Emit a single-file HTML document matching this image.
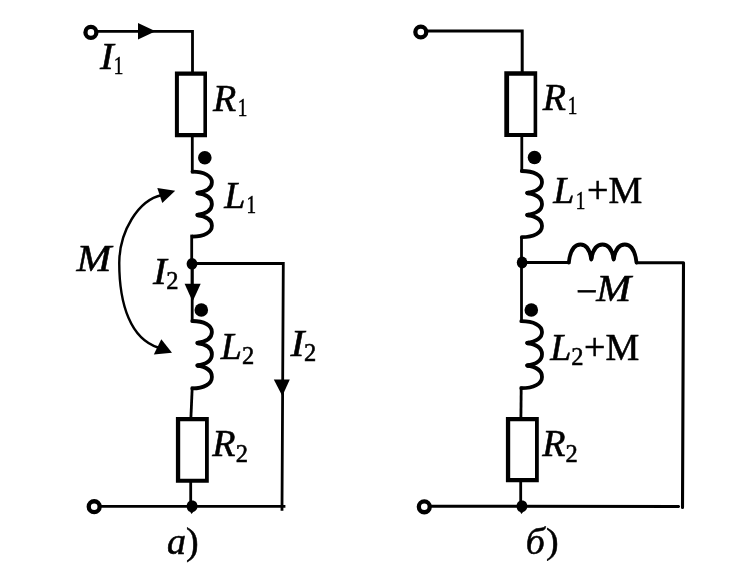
<!DOCTYPE html>
<html>
<head>
<meta charset="utf-8">
<title>Circuit</title>
<style>
html,body{margin:0;padding:0;background:#fff;}
body{width:749px;height:582px;overflow:hidden;font-family:"Liberation Serif",serif;}
svg{display:block;filter:grayscale(1) blur(0.35px);}
.w{fill:none;stroke:#000;stroke-width:2.8;stroke-linecap:square;stroke-linejoin:miter;}
.r{fill:#fff;stroke:#000;stroke-width:3.6;stroke-linejoin:miter;}
.c{fill:none;stroke:#000;stroke-width:3.8;stroke-linecap:round;stroke-linejoin:round;}
.t{fill:#fff;stroke:#000;stroke-width:4.3;}
.a{fill:none;stroke:#000;stroke-width:2.4;stroke-linecap:round;}
.k{fill:#000;stroke:none;}
text{font-family:"Liberation Serif",serif;fill:#000;stroke:#000;stroke-width:0.55;}
.i{font-style:italic;font-size:38px;}
.n{font-style:normal;font-size:38px;}
.s{font-style:normal;font-size:24.5px;}
</style>
</head>
<body>
<svg width="749" height="582" viewBox="0 0 749 582">
<rect x="0" y="0" width="749" height="582" fill="#fff"/>

<!-- ================= LEFT DIAGRAM (a) ================= -->
<!-- top wire -->
<path class="w" d="M97,31.4 H192.5 V72"/>
<polygon class="k" points="138,23 155.5,31.3 138,39.5"/>
<circle class="t" cx="90.9" cy="32.4" r="5.45"/>
<!-- R1 -->
<path fill="#000" fill-rule="evenodd" d="M174.9,71.5 H207.0 V137.15 H174.9 Z M178.9,75.75 H203.4 V133.1 H178.9 Z"/>
<!-- wire R1 -> L1 -->
<path class="w" d="M192.3,137 V172"/>
<circle class="k" cx="204.8" cy="157.7" r="6.8"/>
<!-- L1 coil -->
<path class="c" d="M192.5,171.6 C204.1,171.6 211.9,175.9 211.9,182.3 C211.9,188.7 205.7,191.7 197.2,193.0 C205.7,194.3 211.9,197.4 211.9,204.0 C211.9,210.6 205.7,213.7 197.2,215.0 C205.7,216.3 211.9,219.3 211.9,225.8 C211.9,232.3 204.1,236.6 192.5,236.6"/><ellipse class="k" cx="198.8" cy="193.0" rx="2.9" ry="2.3"/><ellipse class="k" cx="198.8" cy="215.0" rx="2.9" ry="2.3"/>
<!-- wire L1 -> node -> L2 -->
<path class="w" d="M191.7,236 V264"/><path class="w" style="stroke-width:3.2" d="M192.2,264 V286"/><path class="w" d="M192.2,286 V321"/>
<ellipse class="k" cx="192" cy="263.8" rx="5.4" ry="5.8"/>
<polygon class="k" points="184.6,283.8 200.7,283.8 192.6,301.5"/>
<circle class="k" cx="201.3" cy="310" r="6.8"/>
<!-- L2 coil -->
<path class="c" d="M192.3,321 C204.1,321.0 211.9,325.4 211.9,332.0 C211.9,338.6 205.7,341.7 197.2,343.0 C205.7,344.3 211.9,347.5 211.9,354.2 C211.9,361.0 205.7,364.2 197.2,365.5 C205.7,366.8 211.9,370.1 211.9,376.9 C211.9,383.8 204.1,388.4 192.3,388.4"/><ellipse class="k" cx="198.8" cy="343.0" rx="2.9" ry="2.3"/><ellipse class="k" cx="198.8" cy="365.5" rx="2.9" ry="2.3"/>
<!-- wire L2 -> R2 -->
<path class="w" d="M192.2,388 L190.9,418"/>
<!-- R2 -->
<path fill="#000" fill-rule="evenodd" d="M175.9,417.0 H208.8 V482.7 H175.9 Z M180.2,421.15 H205.0 V478.7 H180.2 Z"/>
<path class="w" d="M190.7,481 V506"/>
<!-- bottom wire -->
<path class="w" d="M101,506.3 H284"/>
<circle class="t" cx="94.2" cy="506.7" r="5.45"/>
<path class="k" d="M192.1,500.6 C195.5,500.6 197.5,503 197.5,506.3 C197.5,509.5 195.5,511.3 193.2,512 L191.5,514 L190.3,512 C188,511.3 186.7,509.3 186.7,506.3 C186.7,503 188.7,500.6 192.1,500.6 Z"/>
<!-- right branch -->
<path class="w" d="M192,263.5 H283.3 L282,509.4"/>
<polygon class="k" points="273.8,379.5 289.8,379.5 282.3,396"/>
<!-- M arc -->
<path class="a" d="M162,195 C138,200 119.25,232 119.25,263 C119.25,305 131,339 158,347.5"/>
<polygon class="k" points="175.2,190.8 157.3,188 162.3,203"/>
<polygon class="k" points="172,352.7 161.3,339.2 153.8,354.5"/>

<!-- labels left -->
<text class="i" transform="translate(100,69) scale(1.08,1)">I</text><text class="s" transform="translate(113.8,73.7) scale(0.78,1)">1</text>
<text class="i" x="212.9" y="111.3">R</text><text class="s" transform="translate(237.8,116) scale(0.78,1)">1</text>
<text class="i" x="224.3" y="208">L</text><text class="s" transform="translate(246.4,213.4) scale(0.78,1)">1</text>
<text class="i" transform="translate(76.5,271) scale(1.1,1)">M</text>
<text class="i" transform="translate(153,283.5) scale(1.08,1)">I</text><text class="s" x="166.3" y="289">2</text>
<text class="i" x="220.7" y="359">L</text><text class="s" x="242" y="364">2</text>
<text class="i" transform="translate(290.5,356) scale(1.1,1)">I</text><text class="s" x="304" y="361.2">2</text>
<text class="i" x="212.2" y="456.3">R</text><text class="s" x="235.8" y="461.7">2</text>
<text class="i" x="167" y="554">a</text><text class="n" x="186" y="554">)</text>

<!-- ================= RIGHT DIAGRAM (b) ================= -->
<path class="w" style="stroke-width:3" d="M427,30.9 H522.2 V72"/>
<circle class="t" cx="420.8" cy="32" r="5.45"/>
<path fill="#000" fill-rule="evenodd" d="M504.3,71.3 H537.2 V137.1 H504.3 Z M509.1,75.7 H533.6 V133.1 H509.1 Z"/>
<path class="w" d="M521.8,137 V171"/>
<circle class="k" cx="534.5" cy="157.5" r="6.8"/>
<path class="c" d="M521.8,171 C533.9,171.0 542.0,175.4 542.0,182.0 C542.0,188.6 535.5,191.7 527.0,193.0 C535.5,194.3 542.0,197.4 542.0,204.0 C542.0,210.6 535.5,213.7 527.0,215.0 C535.5,216.3 542.0,219.4 542.0,226.1 C542.0,232.8 533.9,237.2 521.8,237.2"/><ellipse class="k" cx="528.6" cy="193.0" rx="2.9" ry="2.3"/><ellipse class="k" cx="528.6" cy="215.0" rx="2.9" ry="2.3"/>
<path class="w" d="M521.5,239 V320"/>
<ellipse class="k" cx="522.1" cy="262.5" rx="5.3" ry="5.9"/>
<circle class="k" cx="531.3" cy="310" r="6.8"/>
<path class="c" d="M521.3,321.2 C533.7,321.2 542.0,325.6 542.0,332.1 C542.0,338.6 535.5,341.7 527.0,343.0 C535.5,344.3 542.0,347.5 542.0,354.2 C542.0,361.0 535.5,364.2 527.0,365.5 C535.5,366.8 542.0,370.0 542.0,376.9 C542.0,383.7 533.7,388.2 521.3,388.2"/><ellipse class="k" cx="528.6" cy="343.0" rx="2.9" ry="2.3"/><ellipse class="k" cx="528.6" cy="365.5" rx="2.9" ry="2.3"/>
<path class="w" d="M521.2,388 L520.9,418"/>
<path fill="#000" fill-rule="evenodd" d="M505.9,417.0 H538.8 V482.15 H505.9 Z M510.2,421.15 H535.0 V478.1 H510.2 Z"/>
<path class="w" d="M520.7,481 V506"/>
<path class="w" style="stroke-width:3;stroke-linecap:round" d="M431,506.2 L678.6,506.6"/>
<circle class="t" cx="424.3" cy="506.8" r="5.45"/>
<path class="k" d="M522,500.6 C525.4,500.6 527.3,503 527.3,506.3 C527.3,509.5 525.4,511.3 523.1,512 L521.4,514 L520.2,512 C517.9,511.3 516.6,509.3 516.6,506.3 C516.6,503 518.6,500.6 522,500.6 Z"/>
<!-- horizontal branch with coil -->
<path class="w" style="stroke-width:3" d="M521.7,262.6 H568.8"/>
<path class="c" d="M568.8,262.5 C569.8,254 572.5,244.5 580.5,244.5 C587.3,244.5 590.2,252 591.3,259.5 C592.4,252 595.7,244.5 602.5,244.5 C609.3,244.5 612.6,252 613.7,259.5 C614.8,252 618,244.5 624.8,244.5 C632.8,244.5 635.5,254 636.5,262.5"/><ellipse class="k" cx="591.3" cy="257.6" rx="2.1" ry="3"/><ellipse class="k" cx="613.7" cy="257.6" rx="2.1" ry="3"/>
<path class="w" style="stroke-width:3.1;stroke-linecap:round;stroke-linejoin:round" d="M636.5,262.7 H683.5 L682.5,507.4"/>

<!-- labels right -->
<text class="i" x="542.8" y="110.2">R</text><text class="s" transform="translate(567.7,114) scale(0.78,1)">1</text>
<text class="i" x="553.3" y="202.7">L</text><text class="s" transform="translate(575.8,208.5) scale(0.78,1)">1</text><text class="n" x="587" y="202.7">+M</text>
<text class="n" x="576" y="304.2">−</text><text class="i" transform="translate(596.3,301.2) scale(1.1,1)">M</text>
<text class="i" x="550.2" y="359.8">L</text><text class="s" x="571.3" y="364.6">2</text><text class="n" x="584" y="360">+M</text>
<text class="i" x="542.3" y="456.2">R</text><text class="s" x="565.5" y="461.7">2</text>
<text class="i" x="525.7" y="554">б</text><text class="n" transform="translate(546,552.8) scale(1,0.93)">)</text>
</svg>
</body>
</html>
